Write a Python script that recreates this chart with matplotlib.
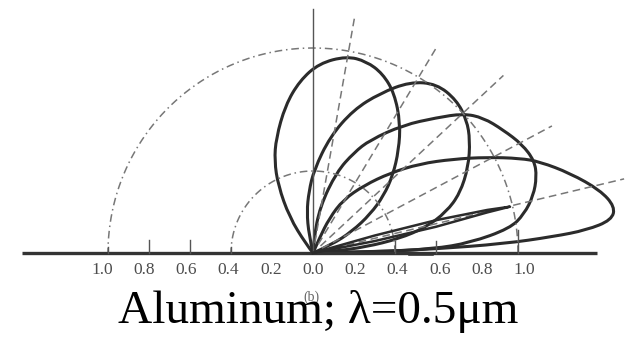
import numpy as np
import matplotlib.pyplot as plt
from matplotlib.path import Path
from matplotlib.patches import PathPatch

# lobe outlines (x, y) in units of the radial scale, each starting and ending at the origin
lobe1_x = [0, -0.035, -0.115, -0.17, -0.188, -0.18, -0.135, -0.065, 0.03, 0.164, 0.26,
           0.34, 0.397, 0.426, 0.418, 0.39, 0.345, 0.28, 0.19, 0.09, 0]
lobe1_y = [0, 0.045, 0.175, 0.33, 0.45, 0.56, 0.72, 0.84, 0.925, 0.96, 0.935,
           0.875, 0.779, 0.633, 0.502, 0.38, 0.28, 0.19, 0.105, 0.04, 0]

lobe2_x = [0, -0.02, -0.03, -0.02, 0.005, 0.083, 0.197, 0.327, 0.473, 0.603, 0.7,
           0.75, 0.766, 0.758, 0.717, 0.65, 0.55, 0.42, 0.26, 0.1, 0]
lobe2_y = [0, 0.09, 0.2, 0.3, 0.405, 0.567, 0.698, 0.779, 0.835, 0.825, 0.746,
           0.649, 0.55, 0.421, 0.291, 0.2, 0.125, 0.07, 0.03, 0.008, 0]

lobe3_x = [0, 0.004, 0.034, 0.115, 0.2, 0.278, 0.44, 0.603, 0.733, 0.83, 0.928,
           1.02, 1.08, 1.091, 1.075, 1.03, 0.961, 0.766, 0.586, 0.3, 0]
lobe3_y = [0, 0.07, 0.226, 0.395, 0.49, 0.551, 0.624, 0.66, 0.68, 0.66, 0.6,
           0.53, 0.45, 0.372, 0.28, 0.19, 0.12, 0.05, 0.02, 0.005, 0]

lobe4_x = [0, 0.03, 0.08, 0.148, 0.25, 0.376, 0.52, 0.684, 0.847, 1.01, 1.107,
           1.254, 1.4, 1.473, 1.457, 1.335, 1.172, 0.928, 0.6, 0.3, 0]
lobe4_y = [0, 0.07, 0.17, 0.26, 0.33, 0.39, 0.435, 0.458, 0.467, 0.462, 0.445,
           0.389, 0.307, 0.226, 0.161, 0.112, 0.08, 0.045, 0.02, 0.006, 0]

lobe5_x = [0, 0.3, 0.6, 0.85, 0.961, 0.85, 0.6, 0.3, 0]
lobe5_y = [0, 0.085, 0.16, 0.21, 0.226, 0.198, 0.128, 0.058, 0]

# specular directions (deg above the surface) and dashed line lengths
spec_angles = [80, 59, 43, 28, 13.4]
spec_lengths = [1.18, 1.17, 1.27, 1.32, 1.56]

circle_radii = [1.0, 0.4]

tick_pos = [-1.0, -0.8, -0.6, -0.4, 0.4, 0.6, 1.0]
tick_len = [0.03, 0.065, 0.065, 0.03, 0.06, 0.057, 0.11]
label_pos = [-1.0, -0.8, -0.6, -0.4, -0.2, 0.0, 0.2, 0.4, 0.6, 0.8, 1.0]
label_txt = ["1.0", "0.8", "0.6", "0.4", "0.2", "0.0", "0.2", "0.4", "0.6", "0.8", "1.0"]


def smooth_path(xs, ys):
    # quadratic B-spline through the outline, pinned at both ends
    pts = list(zip(xs, ys))
    verts = [pts[0]]
    codes = [Path.MOVETO]
    n = len(pts)
    for i in range(1, n - 2):
        mid = ((pts[i][0] + pts[i + 1][0]) / 2, (pts[i][1] + pts[i + 1][1]) / 2)
        verts += [pts[i], mid]
        codes += [Path.CURVE3, Path.CURVE3]
    verts += [pts[n - 2], pts[n - 1]]
    codes += [Path.CURVE3, Path.CURVE3]
    return Path(verts, codes)


fig = plt.figure(figsize=(6.25, 3.37), dpi=100)
ax = fig.add_axes([0, 0, 1, 1])
ax.set_xlim(-313 / 205, 312 / 205)
ax.set_ylim(-84 / 205, 253 / 205)
ax.axis('off')

dash_col = '#777777'
line_col = '#2b2b2b'

# reference circles
for r in circle_radii:
    th = np.linspace(0, np.pi, 200)
    ax.plot(r * np.cos(th), r * np.sin(th), color=dash_col, lw=1.1,
            dashes=(5, 2.5, 1, 2.5))

# specular direction lines
for a, L in zip(spec_angles, spec_lengths):
    t = np.radians(a)
    ax.plot([0.05 * np.cos(t), L * np.cos(t)], [0.05 * np.sin(t), L * np.sin(t)],
            color=dash_col, lw=1.1, dashes=(5, 3))

# axes of the diagram
ax.plot([0, 0], [0, 1.19], color='#555555', lw=1.0)
ax.plot([-1.42, 1.384], [0, 0], color='#333333', lw=2.4, solid_capstyle='butt')
ax.plot([0.473, 0.58], [-0.006, -0.006], color='#333333', lw=2.6)
for p, h in zip(tick_pos, tick_len):
    ax.plot([p, p], [0, h], color='#555555', lw=1.0)

# reflection lobes
for xs, ys in [(lobe1_x, lobe1_y), (lobe2_x, lobe2_y), (lobe3_x, lobe3_y), (lobe4_x, lobe4_y)]:
    ax.add_patch(PathPatch(smooth_path(xs, ys), facecolor='none', edgecolor=line_col,
                           lw=2.2, joinstyle='round'))
ax.plot(lobe5_x, lobe5_y, color=line_col, lw=1.8, solid_joinstyle='round')

for p, s in zip(label_pos, label_txt):
    ax.text(p * 1.03, -0.083, s, ha='center', va='center', fontsize=12.5,
            family='Liberation Serif', color='#4d4d4d')

ax.text(-0.01, -0.215, "(b)", ha='center', va='center', fontsize=10,
        family='Liberation Serif', color='#666666')
ax.text(0.024, -0.34, "Aluminum; λ=0.5μm", ha='center', va='baseline', fontsize=34,
        family='Liberation Serif', color='black')

fig.savefig('out.png', dpi=100, facecolor='white')
